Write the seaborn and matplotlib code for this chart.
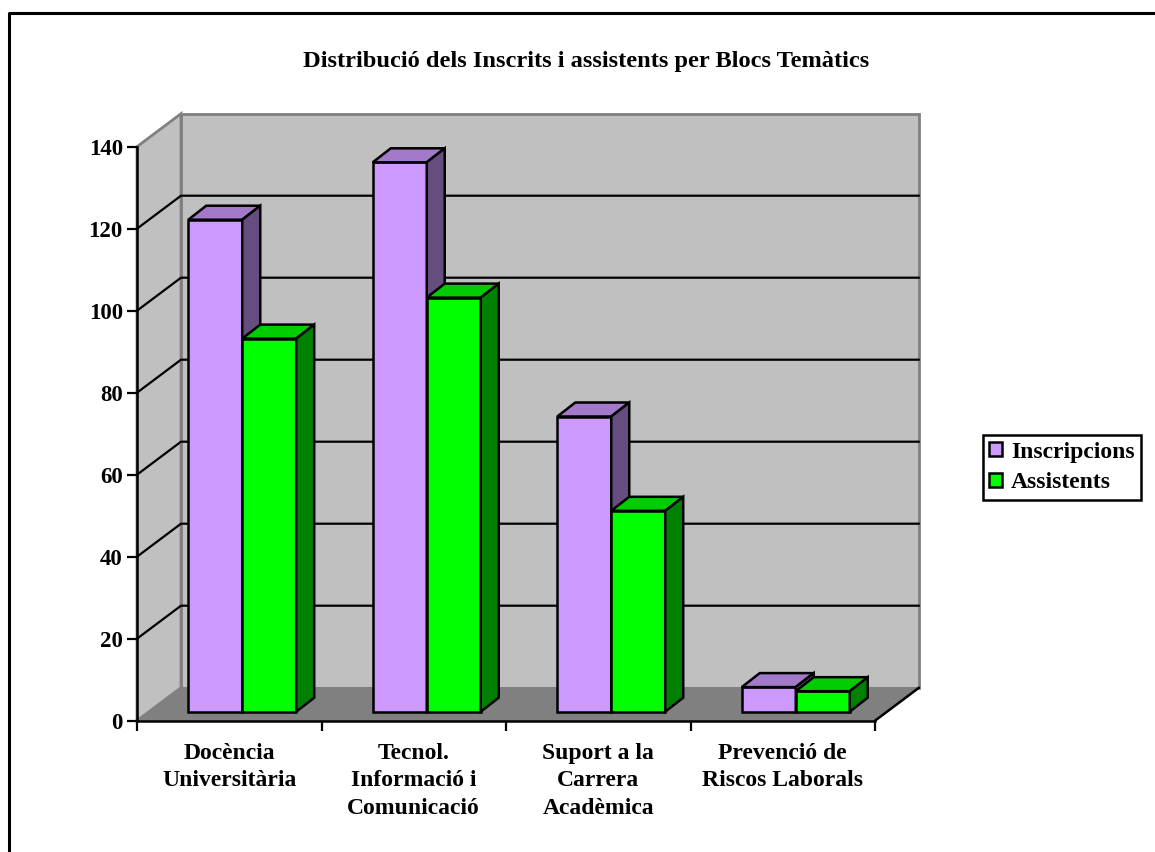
import pandas as pd
import matplotlib.pyplot as plt
import seaborn as sns
from matplotlib.lines import Line2D
from matplotlib.transforms import Affine2D

categories = ["Docència\nUniversitària", "Tecnol.\nInformació i\nComunicació",
              "Suport a la\nCarrera\nAcadèmica", "Prevenció de\nRiscos Laborals"]
inscripcions = [120, 134, 72, 6]
assistents = [91, 101, 49, 5]
y_ticks = [0, 20, 40, 60, 80, 100, 120, 140]

W, H = 1155, 852
LEFT, RIGHT, TOP, BOTTOM = 137, 875, 146.7, 720.7
WALL_DX, WALL_DY = 44, 33     # depth of the whole box, pixels
BAR_OFF_X, BAR_OFF_Y = 13, 9  # bars stand a bit inside the floor
BAR_DX, BAR_DY = 18, 14       # depth of a bar


def main():
    sns.set_theme(style="white")
    plt.rcParams["font.family"] = ["Liberation Serif", "DejaVu Serif"]
    plt.rcParams["font.weight"] = "bold"
    plt.rcParams["text.color"] = "black"
    plt.rcParams["xtick.color"] = "black"
    plt.rcParams["ytick.color"] = "black"

    df = pd.DataFrame({
        "cat": categories * 2,
        "valor": inscripcions + assistents,
        "serie": ["Inscripcions"] * 4 + ["Assistents"] * 4,
    })
    colors = {"Inscripcions": "#CC99FF", "Assistents": "#00FF00"}
    tops = {"Inscripcions": "#A37AC9", "Assistents": "#00CC00"}
    sides = {"Inscripcions": "#664D80", "Assistents": "#008000"}

    fig = plt.figure(figsize=(W / 100, H / 100), dpi=100, facecolor="white")
    ax = fig.add_axes([LEFT / W, 1 - BOTTOM / H, (RIGHT - LEFT) / W, (BOTTOM - TOP) / H])
    ax.patch.set_alpha(0)

    sns.barplot(data=df, x="cat", y="valor", hue="serie", palette=colors, saturation=1,
                width=0.585, gap=0, edgecolor="black", linewidth=1.8, ax=ax, zorder=3)
    ax.set_xlim(-0.5, 3.5)
    ax.set_ylim(0, 140)

    # pixels -> data units, the box is drawn in the axes own scale
    ux = 4 / (RIGHT - LEFT)
    uy = 140 / (BOTTOM - TOP)
    x0, x1 = -0.5, 3.5
    wx, wy = WALL_DX * ux, WALL_DY * uy

    gray = "#808080"
    ax.fill([x0 + wx, x1 + wx, x1 + wx, x0 + wx], [wy, wy, 140 + wy, 140 + wy],
            fc="#C0C0C0", ec=gray, lw=2, clip_on=False, zorder=0.5)
    ax.fill([x0, x0 + wx, x0 + wx, x0], [0, wy, 140 + wy, 140],
            fc="#C0C0C0", ec=gray, lw=2, clip_on=False, zorder=0.5)
    ax.fill([x0, x1, x1 + wx, x0 + wx], [0, 0, wy, wy],
            fc=gray, ec=gray, lw=1, clip_on=False, zorder=0.6)
    ax.plot([x1, x1 + wx], [0, wy], color="black", lw=1.8, clip_on=False, zorder=0.7)

    for v in y_ticks[1:-1]:
        ax.plot([x0, x0 + wx, x1 + wx], [v, v + wy, v + wy], color="black", lw=1.6,
                clip_on=False, zorder=0.7)

    # bars: move the seaborn rectangles inside the box and add top and side faces
    shift = ax.transData + Affine2D().translate(BAR_OFF_X, BAR_OFF_Y)
    bx, by = BAR_DX * ux, BAR_DY * uy
    z = 3
    for i in range(len(categories)):
        for container, name in zip(ax.containers, colors):
            bar = container[i]
            x, w, h = bar.get_x(), bar.get_width(), bar.get_height()
            bar.set_transform(shift)
            bar.set_clip_on(False)
            bar.set_zorder(z)
            ax.fill([x, x + w, x + w + bx, x + bx], [h, h, h + by, h + by],
                    fc=tops[name], ec="black", lw=1.8, transform=shift, clip_on=False, zorder=z)
            ax.fill([x + w, x + w + bx, x + w + bx, x + w], [0, by, h + by, h],
                    fc=sides[name], ec="black", lw=1.8, transform=shift, clip_on=False, zorder=z)
            z += 0.1

    sns.despine(ax=ax)
    for s in ["left", "bottom"]:
        ax.spines[s].set_linewidth(1.8)
        ax.spines[s].set_color("black")

    ax.set_xlabel("")
    ax.set_ylabel("")
    ax.set_yticks(y_ticks)
    ax.tick_params(axis="y", left=True, length=7.2, width=1.6, color="black", pad=3,
                   labelsize=16.5, labelcolor="black")
    ax.set_xticks(range(len(categories)))
    ax.set_xticklabels(categories, linespacing=1.41)
    ax.set_xticks([-0.5, 0.5, 1.5, 2.5, 3.5], minor=True)
    ax.tick_params(axis="x", which="major", bottom=False, pad=10, labelsize=17, labelcolor="black")
    ax.tick_params(axis="x", which="minor", bottom=True, length=7.2, width=1.6, color="black")

    sns.move_legend(ax, "center left", bbox_to_anchor=(983 / W, 1 - 467.5 / H),
                    bbox_transform=fig.transFigure, title=None, frameon=True, fancybox=False,
                    edgecolor="black", framealpha=1, fontsize=17, handlelength=0.55,
                    handleheight=0.55, handletextpad=0.36, labelspacing=0.42,
                    borderpad=0.27, borderaxespad=0, labelcolor="black")
    ax.get_legend().get_frame().set_linewidth(1.8)

    fig.text(586 / W, 1 - 61 / H, "Distribució dels Inscrits i assistents per Blocs Temàtics",
             ha="center", va="center", fontsize=17.6, color="black")

    # frame of the original picture, only top and left are visible
    fig.add_artist(Line2D([8.5 / W, 8.5 / W, 1], [0, 1 - 12.5 / H, 1 - 12.5 / H],
                          color="black", lw=2.2))

    fig.savefig("out.png", dpi=100)


if __name__ == "__main__":
    main()
